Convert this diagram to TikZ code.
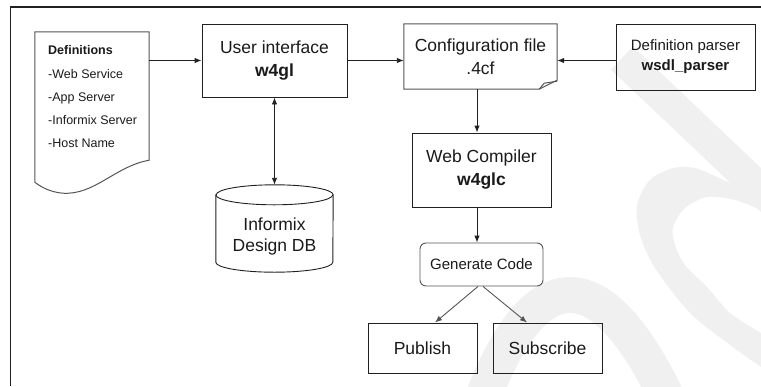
\documentclass[tikz,border=0pt]{standalone}
\usepackage{fontspec}
\setmainfont{Liberation Sans}
\usetikzlibrary{arrows.meta,calc}
\definecolor{WebInk}{HTML}{1A1A1A}
\definecolor{WebEdge}{HTML}{202020}
\definecolor{WebGrey}{HTML}{555555}
\definecolor{WebMark}{HTML}{F0F0F0}
\tikzset{
  web text/.style={font=\fontsize{17.5}{23}\selectfont, text=WebInk, align=center},
  web small/.style={font=\fontsize{15}{20}\selectfont, text=WebInk, align=center},
  web list/.style={font=\fontsize{12.5}{23.3}\selectfont, text=WebInk, align=left, inner sep=0pt},
  web box/.style={draw=WebEdge, line width=.9pt, inner sep=0pt},
  web shape/.style={inner sep=0pt},
  web outline/.style={draw=WebGrey, line width=1pt},
  web flow/.style={draw=WebEdge, line width=.9pt, -{Latex[length=7pt,width=5.5pt]}},
  web both/.style={web flow, {Latex[length=7pt,width=5.5pt]}-{Latex[length=7pt,width=5.5pt]}},
  web split/.style={web flow, draw=WebGrey},
  web mark/.style={fill=WebMark, draw=none},
}

\begin{document}
\begin{tikzpicture}[x=1pt,y=-1pt]
  \useasboundingbox (0,0) rectangle (761,386);

  % faint watermark behind the flow
  \fill[web mark] (611,69.6) -- (633,46.4) -- (761,168) -- (761,212) -- cycle;
  \fill[web mark] plot[smooth] coordinates {(735,185) (717,177) (695,168) (673,168) (650,180)
      (637,205) (640,235) (655,268) (690,313) (730,345) (761,367)}
    -- plot[smooth] coordinates {(761,333) (730,313) (707,287) (685,265) (675,245) (673,227)
      (685,208) (707,197) (735,200) (761,210)} -- cycle;
  \draw[WebMark, line width=36pt] (482,400) .. controls (535,262) and (600,258) .. (668,400);

  % page frame, cropped at right and bottom
  \draw[WebEdge, line width=1.2pt] (10.5,386) -- (10.5,7) -- (761,7);

  % definitions document
  \node[web shape, minimum width=114pt, minimum height=150pt] (defdoc) at (92,107) {};
  \draw[web outline] (defdoc.south west)
    .. controls ($(defdoc.south west)+(5,4)$) and ($(defdoc.south west)+(15,10)$) .. ($(defdoc.south west)+(28,11)$)
    .. controls ($(defdoc.south west)+(60,13)$) and ($(defdoc.south east)+(-34,-16)$) .. ($(defdoc.south east)+(0,-22)$)
    -- (defdoc.north east) -- (defdoc.north west) -- cycle;
  \node[web list, anchor=north west] (deflist) at (48,45.5)
    {\textbf{Definitions}\\-Web Service\\-App Server\\-Informix Server\\-Host Name};

  % top row
  \node[web box, web text, minimum width=145pt, minimum height=73pt] (ui) at (274.5,60.5)
    {User interface\\\textbf{w4gl}};
  \node[web shape, web text, minimum width=153pt, minimum height=65pt] (cfg) at (480.5,56.5)
    {Configuration file\\.4cf};
  \draw[web outline] (cfg.north west) -- (cfg.north east) -- ([yshift=9pt]cfg.south east)
    -- ([xshift=-18pt]cfg.south east) -- (cfg.south west) -- cycle;
  \draw[web outline] ([xshift=-18pt]cfg.south east) -- ([xshift=-13pt,yshift=6pt]cfg.south east)
    -- ([yshift=8pt]cfg.south east);
  \node[web box, web small, minimum width=139pt, minimum height=66pt] (wsdl) at (685.5,57)
    {Definition parser\\\textbf{wsdl\_parser}};

  % design database
  \node[web shape, minimum width=117pt, minimum height=87pt] (db) at (274.5,228.5) {};
  \draw[web box] ([yshift=-10pt]db.north west) -- ([yshift=10pt]db.south west)
    arc[start angle=180, end angle=360, x radius=58.5pt, y radius=10pt]
    -- ([yshift=-10pt]db.north east)
    arc[start angle=0, end angle=180, x radius=58.5pt, y radius=10pt] -- cycle;
  \draw[web box] ([yshift=-10pt]db.north west)
    arc[start angle=180, end angle=360, x radius=58.5pt, y radius=10pt];
  \node[web text, font=\fontsize{17.5}{21}\selectfont] (dbtext) at ([yshift=-8pt]db.center)
    {Informix\\Design DB};

  % compiler chain
  \node[web box, web text, minimum width=139pt, minimum height=74pt] (wc) at (481.5,170)
    {Web Compiler\\\textbf{w4glc}};
  \node[web box, draw=WebGrey, rounded corners=6pt, web small, minimum width=123pt,
    minimum height=43pt] (gen) at (481.5,264.5) {Generate Code};
  \node[web box, web text, minimum width=109pt, minimum height=50pt] (pub) at (422.5,348) {Publish};
  \node[web box, web text, minimum width=109pt, minimum height=50pt] (sub) at (547.5,348) {Subscribe};

  % connectors
  \draw[web flow] (defdoc.east |- ui.west) -- (ui.west);
  \draw[web flow] (ui.east) -- (ui.east -| cfg.west);
  \draw[web flow] (wsdl.west |- ui.east) -- (cfg.east |- ui.east);
  \draw[web both] (ui.south) -- (db.north);
  \draw[web flow] ([xshift=-3.5pt]cfg.south) -- ([xshift=-3.5pt]cfg.south |- wc.north);
  \draw[web flow] ([xshift=-4.5pt]wc.south) -- ([xshift=-4.5pt]wc.south |- gen.north);
  \draw[web split] ([xshift=-3.5pt]gen.south) -- ([xshift=12.5pt]pub.north);
  \draw[web split] ([xshift=1.5pt]gen.south) -- ([xshift=-20.5pt]sub.north);
\end{tikzpicture}
\end{document}
